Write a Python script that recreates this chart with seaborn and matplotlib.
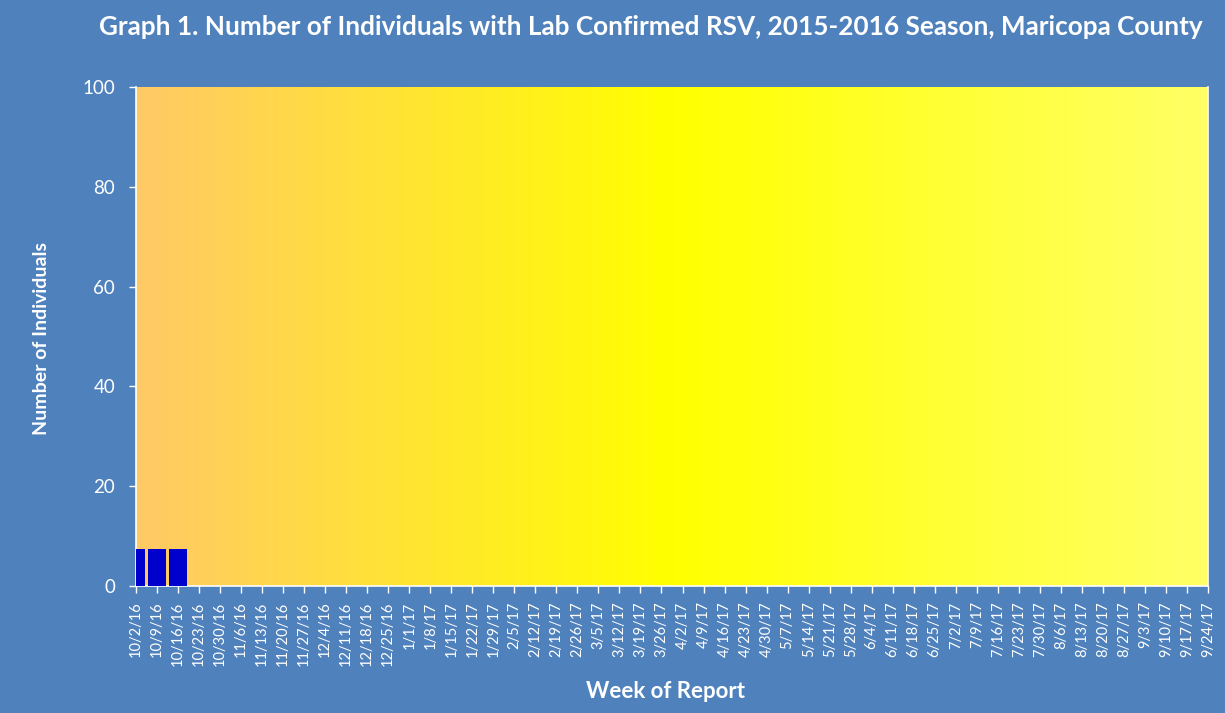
import numpy as np
import pandas as pd
import matplotlib
matplotlib.use("Agg")
import matplotlib.pyplot as plt
from matplotlib.colors import LinearSegmentedColormap
import seaborn as sns

weeks = ["10/2/16", "10/9/16", "10/16/16", "10/23/16", "10/30/16", "11/6/16", "11/13/16",
         "11/20/16", "11/27/16", "12/4/16", "12/11/16", "12/18/16", "12/25/16", "1/1/17",
         "1/8/17", "1/15/17", "1/22/17", "1/29/17", "2/5/17", "2/12/17", "2/19/17", "2/26/17",
         "3/5/17", "3/12/17", "3/19/17", "3/26/17", "4/2/17", "4/9/17", "4/16/17", "4/23/17",
         "4/30/17", "5/7/17", "5/14/17", "5/21/17", "5/28/17", "6/4/17", "6/11/17", "6/18/17",
         "6/25/17", "7/2/17", "7/9/17", "7/16/17", "7/23/17", "7/30/17", "8/6/17", "8/13/17",
         "8/20/17", "8/27/17", "9/3/17", "9/10/17", "9/17/17", "9/24/17"]
counts = [7.4, 7.4, 7.4] + [0] * (len(weeks) - 3)
y_ticks = [0, 20, 40, 60, 80, 100]

title = "Graph 1. Number of Individuals with Lab Confirmed RSV, 2015-2016 Season, Maricopa County"
xlabel = "Week of Report"
ylabel = "Number of Individuals"

bg = "#4f81bd"
bar_color = "#0000cc"

sns.set_theme(style="white")
plt.rcParams["font.family"] = ["Lato", "DejaVu Sans"]

fig = plt.figure(figsize=(12.25, 7.13), dpi=100, facecolor=bg)
ax = fig.add_axes([136 / 1225, 1 - 586 / 713, (1208 - 136) / 1225, (586 - 87) / 713])
ax.set_facecolor(bg)

df = pd.DataFrame({"week": weeks, "count": counts})
sns.barplot(data=df, x="week", y="count", color=bar_color, saturation=1, width=0.87,
            order=weeks, ax=ax, zorder=3)
for p in ax.patches:
    p.set_edgecolor("none")

ax.set_xlim(0, len(weeks) - 1)
ax.set_ylim(0, 100)

cmap = LinearSegmentedColormap.from_list(
    "grad", [(0.0, "#ffc966"), (0.5, "#ffff00"), (1.0, "#ffff66")])
grad = np.linspace(0, 1, 512).reshape(1, -1)
ax.imshow(grad, aspect="auto", cmap=cmap, extent=[0, len(weeks) - 1, 0, 100],
          zorder=0, interpolation="bicubic")

ax.set_yticks(y_ticks)
ax.set_yticklabels([str(v) for v in y_ticks], color="white", fontsize=13.5)
ax.set_xticks(range(len(weeks)))
ax.set_xticklabels(weeks, rotation=90, color="white", fontsize=10.5)
ax.tick_params(axis="both", which="both", colors="white", length=5, width=1,
               direction="out", bottom=True, left=True)
ax.tick_params(axis="y", pad=10)
ax.tick_params(axis="x", pad=6)
for lab in ax.get_xticklabels() + ax.get_yticklabels():
    lab.set_color("white")

for s in ["left", "bottom", "right", "top"]:
    ax.spines[s].set_color("white")
    ax.spines[s].set_linewidth(1.2)
    ax.spines[s].set_visible(True)
ax.spines["top"].set_visible(False)

ax.set_xlabel("")
ax.set_ylabel("")
fig.text(666 / 1225, 1 - 691 / 713, xlabel, color="white", fontsize=16,
         fontweight="bold", ha="center", va="center")
fig.text(42 / 1225, 1 - 338 / 713, ylabel, color="white", fontsize=14,
         fontweight="bold", ha="center", va="center", rotation=90)
fig.text(651 / 1225, 1 - 27 / 713, title, color="white", fontsize=18.8,
         fontweight="bold", ha="center", va="center")

fig.savefig("out.png", dpi=100, facecolor=bg)
